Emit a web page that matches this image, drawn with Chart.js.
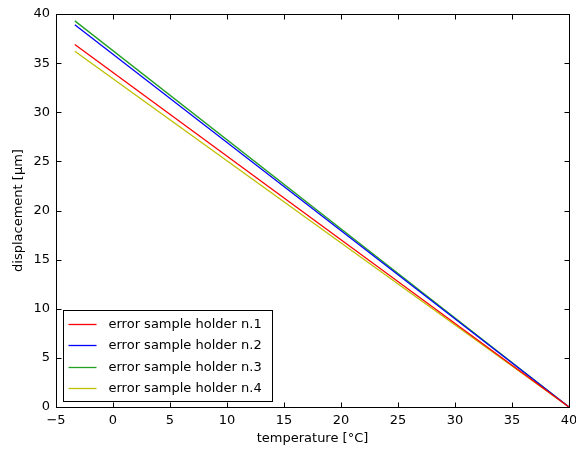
<!DOCTYPE html>
<html>
<head>
<meta charset="utf-8">
<script src="https://cdn.jsdelivr.net/npm/chart.js@4/dist/chart.umd.min.js"></script>
<style>
  html, body { margin: 0; padding: 0; background: #fff; }
  #wrap { width: 576px; height: 454px; }
</style>
</head>
<body>
<div id="wrap"><canvas id="myChart" width="576" height="454"></canvas></div>
<script>
// temperature end points of each line
const temps = [-3.35, 40];

const holder1 = [36.9, 0];
const holder2 = [38.9, 0];
const holder3 = [39.3, 0];
const holder4 = [36.2, 0];

const seriesNames = [
  "error sample holder n.1",
  "error sample holder n.2",
  "error sample holder n.3",
  "error sample holder n.4",
];
const seriesColors = ["#ff0000", "#0000ff", "#22a022", "#bfbf00"];

const xTicks = [-5, 0, 5, 10, 15, 20, 25, 30, 35, 40];
const yTicks = [0, 5, 10, 15, 20, 25, 30, 35, 40];

const FONT = "'DejaVu Sans', sans-serif";

function toPoints(vals) {
  return vals.map((v, i) => ({ x: temps[i], y: v }));
}

// box, inward ticks and legend drawn like matplotlib classic
const framePlugin = {
  id: "frame",
  afterDatasetsDraw(chart) {
    const ctx = chart.ctx;
    const a = chart.chartArea;
    const xs = chart.scales.x;
    const ys = chart.scales.y;
    ctx.save();
    ctx.strokeStyle = "#000";
    ctx.lineWidth = 1;
    const L = Math.round(a.left) + 0.5, R = Math.round(a.right) + 0.5;
    const T = Math.round(a.top) + 0.5, B = Math.round(a.bottom) + 0.5;
    ctx.beginPath();
    xTicks.forEach((t) => {
      const px = Math.round(xs.getPixelForValue(t)) + 0.5;
      ctx.moveTo(px, B); ctx.lineTo(px, B - 5);
      ctx.moveTo(px, T); ctx.lineTo(px, T + 5);
    });
    yTicks.forEach((t) => {
      const py = Math.round(ys.getPixelForValue(t)) + 0.5;
      ctx.moveTo(L, py); ctx.lineTo(L + 5, py);
      ctx.moveTo(R, py); ctx.lineTo(R - 5, py);
    });
    ctx.stroke();
    ctx.strokeRect(L, T, R - L, B - T);

    // legend
    const lx = 63.5, ly = 310.5, lw = 209, lh = 91;
    ctx.fillStyle = "#fff";
    ctx.fillRect(lx, ly, lw, lh);
    ctx.strokeStyle = "#000";
    ctx.strokeRect(lx, ly, lw, lh);
    ctx.font = "13px " + FONT;
    ctx.textBaseline = "middle";
    seriesNames.forEach((name, i) => {
      const y = Math.round(ly + 13 + i * 21.5) + 0.5;
      ctx.strokeStyle = seriesColors[i];
      ctx.lineWidth = 1.3;
      ctx.beginPath();
      ctx.moveTo(lx + 5, y);
      ctx.lineTo(lx + 33, y);
      ctx.stroke();
      ctx.fillStyle = "#000";
      ctx.fillText(name, lx + 45, y);
    });
    ctx.restore();
  },
};

const ctx = document.getElementById("myChart").getContext("2d");
const myChart = new Chart(ctx, {
  type: "scatter",
  data: {
    datasets: [holder1, holder2, holder3, holder4].map((vals, i) => ({
      label: seriesNames[i],
      data: toPoints(vals),
      showLine: true,
      borderColor: seriesColors[i],
      backgroundColor: seriesColors[i],
      borderWidth: 1.3,
      pointRadius: 0,
    })),
  },
  options: {
    responsive: false,
    animation: false,
    layout: { padding: { top: 14, right: 7, left: 11, bottom: 8 } },
    plugins: { legend: { display: false }, tooltip: { enabled: false } },
    scales: {
      x: {
        type: "linear",
        min: -5,
        max: 40,
        afterBuildTicks: (s) => { s.ticks = xTicks.map((v) => ({ value: v })); },
        afterFit: (s) => { s.height = 39; s.paddingLeft = 0; s.paddingRight = 0; },
        grid: { display: false, drawTicks: false },
        border: { display: false },
        ticks: {
          color: "#000",
          padding: 6,
          font: { family: FONT, size: 13 },
          maxRotation: 0,
          callback: (v) => (v < 0 ? "\u2212" + Math.abs(v) : v),
        },
        title: {
          display: true,
          text: "temperature [\u00b0C]",
          color: "#000",
          font: { family: FONT, size: 13 },
          padding: { top: 0, bottom: 0 },
        },
      },
      y: {
        type: "linear",
        min: 0,
        max: 40,
        afterBuildTicks: (s) => { s.ticks = yTicks.map((v) => ({ value: v })); },
        afterFit: (s) => { s.width = 45; s.paddingTop = 0; s.paddingBottom = 0; },
        grid: { display: false, drawTicks: false },
        border: { display: false },
        ticks: {
          color: "#000",
          padding: 6,
          font: { family: FONT, size: 13 },
        },
        title: {
          display: true,
          text: "displacement [\u03bcm]",
          color: "#000",
          font: { family: FONT, size: 13 },
          padding: { top: 0, bottom: 0 },
        },
      },
    },
  },
  plugins: [framePlugin],
});
</script>
</body>
</html>
